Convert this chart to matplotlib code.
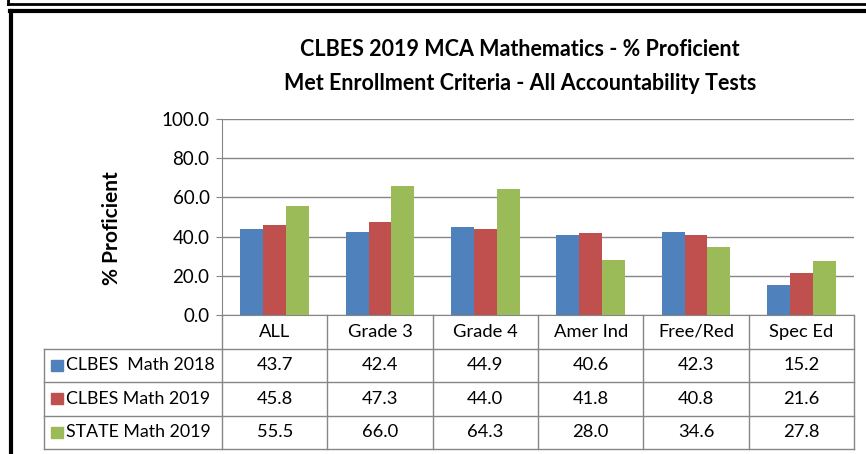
import matplotlib.pyplot as plt
import matplotlib.lines as mlines
import matplotlib.patches as mpatches
import matplotlib.transforms as mtrans
import numpy as np

plt.rcParams['font.family'] = ['Lato', 'DejaVu Sans']

categories = ["ALL", "Grade 3", "Grade 4", "Amer Ind", "Free/Red", "Spec Ed"]
series_names = ["CLBES  Math 2018", "CLBES Math 2019", "STATE Math 2019"]
math_2018 = [43.7, 42.4, 44.9, 40.6, 42.3, 15.2]
math_2019 = [45.8, 47.3, 44.0, 41.8, 40.8, 21.6]
state_2019 = [55.5, 66.0, 64.3, 28.0, 34.6, 27.8]
colors = ["#4F81BD", "#C0504D", "#9BBB59"]
yticks = [0, 20, 40, 60, 80, 100]

W, H = 866, 454
fig = plt.figure(figsize=(W / 100, H / 100), dpi=100)
fig.patch.set_facecolor("white")

# plot area in pixels
left, right, top, bottom = 222, 854, 119, 315
ax = fig.add_axes([left / W, 1 - bottom / H, (right - left) / W, (bottom - top) / H])

x = np.arange(len(categories))
bw = 0.218
for i, vals in enumerate([math_2018, math_2019, state_2019]):
    ax.bar(x + (i - 1) * bw, vals, bw, color=colors[i], zorder=3)

fs = 13.2
ax.set_xlim(-0.5, len(categories) - 0.5)
ax.set_ylim(0, 100)
ax.set_yticks(yticks)
ax.set_yticklabels(["%.1f" % v for v in yticks], fontsize=13.5)
ax.tick_params(axis="y", length=4, color="#868686", pad=5)
ax.set_xticks([])
ax.grid(axis="y", color="#868686", linewidth=1, zorder=0)
for s in ["top", "right"]:
    ax.spines[s].set_visible(False)
ax.spines["left"].set_color("#868686")
ax.spines["bottom"].set_color("#868686")
ax.set_ylabel("% Proficient", fontsize=15, fontweight="bold")
ax.yaxis.set_label_coords((122 - left) / (right - left), (bottom - 228) / (bottom - top))

# data table under the axis
gray = "#868686"
rowh = 33.5 / (bottom - top)
trans = mtrans.blended_transform_factory(ax.transData, ax.transAxes)
tab_left = (44 - left) / (right - left)
n = len(categories)
# vertical lines for category columns
for k in range(n + 1):
    ax.add_line(mlines.Line2D([k - 0.5, k - 0.5], [0, -4 * rowh], transform=trans,
                              color=gray, lw=1, clip_on=False))
# horizontal lines
for r in range(1, 5):
    ax.add_line(mlines.Line2D([tab_left, 1], [-r * rowh, -r * rowh], transform=ax.transAxes,
                              color=gray, lw=1, clip_on=False))
ax.add_line(mlines.Line2D([tab_left, tab_left], [-rowh, -4 * rowh], transform=ax.transAxes,
                          color=gray, lw=1, clip_on=False))

for k, c in enumerate(categories):
    ax.text(k, -0.5 * rowh, c, transform=trans, ha="center", va="center", fontsize=fs)

for r, vals in enumerate([math_2018, math_2019, state_2019]):
    yc = -(r + 1.5) * rowh
    for k, v in enumerate(vals):
        ax.text(k, yc, "%.1f" % v, transform=trans, ha="center", va="center", fontsize=fs)
    sq = 12 / (right - left)
    sqh = 11 / (bottom - top)
    ax.add_patch(mpatches.Rectangle((tab_left + 7 / (right - left), yc - sqh / 2), sq, sqh,
                                    transform=ax.transAxes, color=colors[r], clip_on=False))
    ax.text(tab_left + 22 / (right - left), yc, series_names[r], transform=ax.transAxes,
            ha="left", va="center", fontsize=12.8)

fig.text(520 / W, 1 - 50 / H, "CLBES 2019 MCA Mathematics - % Proficient",
         ha="center", va="center", fontsize=15.5, fontweight="bold")
fig.text(520 / W, 1 - 83 / H, "Met Enrollment Criteria - All Accountability Tests",
         ha="center", va="center", fontsize=15.5, fontweight="bold")

# frame lines
def px_line(xs, ys, lw):
    fig.add_artist(mlines.Line2D([v / W for v in xs], [1 - v / H for v in ys],
                                 transform=fig.transFigure, color="black", lw=lw))

px_line([8, W], [4, 4], 2)
px_line([8, 8], [0, 4], 2)
px_line([10, W], [11, 11], 3)
px_line([11, 11], [11, H], 3)

fig.savefig("out.png", dpi=100)
